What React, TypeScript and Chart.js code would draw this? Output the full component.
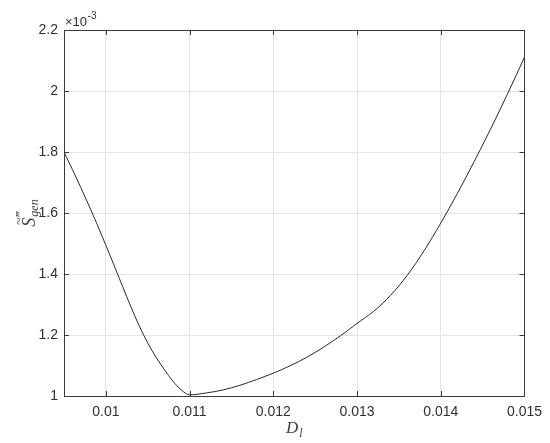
import React, { useEffect, useRef } from 'react';
import { Chart, registerables } from 'chart.js';

Chart.register(...registerables);

// D_l values
const dl = [
  0.0095, 0.0096, 0.0097, 0.0098, 0.0099, 0.01, 0.0101, 0.0102, 0.0103, 0.0104,
  0.0105, 0.0106, 0.0107, 0.0108, 0.0109, 0.011,
  0.0112, 0.0114, 0.0116, 0.0118, 0.012, 0.0122, 0.0124, 0.0126, 0.0128, 0.013,
  0.0132, 0.0134, 0.0136, 0.0138, 0.014, 0.0142, 0.0144, 0.0146, 0.0148, 0.015,
];
// S_gen''' values (x 10^-3)
const sgen = [
  1.8, 1.743, 1.684, 1.623, 1.56, 1.494, 1.427, 1.359, 1.292, 1.229,
  1.174, 1.127, 1.086, 1.049, 1.02, 1.004,
  1.01, 1.02, 1.035, 1.054, 1.075, 1.099, 1.127, 1.16, 1.197, 1.238,
  1.278, 1.33, 1.396, 1.476, 1.567, 1.665, 1.769, 1.878, 1.992, 2.111,
];

const xTicks = [0.01, 0.011, 0.012, 0.013, 0.014, 0.015];
const xTickLabels = ['0.01', '0.011', '0.012', '0.013', '0.014', '0.015'];
const yTicks = [1, 1.2, 1.4, 1.6, 1.8, 2, 2.2];
const yTickLabels = ['1', '1.2', '1.4', '1.6', '1.8', '2', '2.2'];
const exponentBase = '×10';
const exponentPower = '-3';
const xTitleMain = 'D';
const xTitleSub = 'l';
const yTitleMain = 'S';
const yTitleSup = '‴';
const yTitleSub = 'gen';

const X_MIN = 0.0095;
const X_MAX = 0.015;
const Y_MIN = 1;
const Y_MAX = 2.2;

const AXIS_COLOR = '#3a3a3a';
const TEXT_COLOR = '#303030';
const TITLE_COLOR = '#404040';
const SANS = '"Liberation Sans", Arial, sans-serif';
const SERIF = '"Liberation Serif", "Times New Roman", serif';

const framePlugin = {
  id: 'matlabFrame',
  afterDraw(chart: any) {
    const { ctx, chartArea } = chart;
    const { left, right, top, bottom } = chartArea;
    const xs = chart.scales.x;
    const ys = chart.scales.y;
    ctx.save();
    ctx.strokeStyle = AXIS_COLOR;
    ctx.lineWidth = 1;
    ctx.strokeRect(Math.round(left) + 0.5, Math.round(top) + 0.5, Math.round(right - left), Math.round(bottom - top));
    const tl = 5;
    ctx.beginPath();
    xTicks.forEach((v) => {
      const px = Math.round(xs.getPixelForValue(v)) + 0.5;
      ctx.moveTo(px, bottom);
      ctx.lineTo(px, bottom - tl);
      ctx.moveTo(px, top);
      ctx.lineTo(px, top + tl);
    });
    yTicks.forEach((v) => {
      const py = Math.round(ys.getPixelForValue(v)) + 0.5;
      ctx.moveTo(left, py);
      ctx.lineTo(left + tl, py);
      ctx.moveTo(right, py);
      ctx.lineTo(right - tl, py);
    });
    ctx.stroke();

    // exponent label
    ctx.fillStyle = TEXT_COLOR;
    ctx.textBaseline = 'alphabetic';
    ctx.textAlign = 'left';
    ctx.font = `13px ${SANS}`;
    const bx = left + 1;
    ctx.fillText(exponentBase, bx, top - 4);
    const bw = ctx.measureText(exponentBase).width;
    ctx.font = `10px ${SANS}`;
    ctx.fillText(exponentPower, bx + bw + 0.5, top - 11);

    // x title
    ctx.fillStyle = TITLE_COLOR;
    ctx.font = `italic 17px ${SERIF}`;
    const dW = ctx.measureText(xTitleMain).width;
    ctx.font = `italic 12px ${SERIF}`;
    const lW = ctx.measureText(xTitleSub).width;
    const cx = (left + right) / 2;
    const sx = cx - (dW + lW + 1) / 2;
    ctx.font = `italic 17px ${SERIF}`;
    ctx.fillText(xTitleMain, sx, 433);
    ctx.font = `italic 12px ${SERIF}`;
    ctx.fillText(xTitleSub, sx + dW + 1, 437);

    // y title (rotated)
    const cy = (top + bottom) / 2;
    ctx.translate(27, cy);
    ctx.rotate(-Math.PI / 2);
    ctx.font = `italic 18px ${SERIF}`;
    const sW = ctx.measureText(yTitleMain).width;
    ctx.font = `italic 12px ${SERIF}`;
    const gW = ctx.measureText(yTitleSub).width;
    const total = sW + 1 + gW;
    const x0 = -total / 2;
    const base = 8;
    ctx.font = `italic 18px ${SERIF}`;
    ctx.fillText(yTitleMain, x0, base);
    // tilde above S
    ctx.font = `14px ${SERIF}`;
    const tW = ctx.measureText('~').width;
    ctx.fillText('~', x0 + sW / 2 - tW / 2 + 1, base - 11);
    ctx.font = `italic 12px ${SERIF}`;
    ctx.fillText(yTitleSub, x0 + sW + 1, base + 3);
    ctx.font = `14px ${SERIF}`;
    ctx.fillText(yTitleSup, x0 + sW + 1, base - 9);
    ctx.restore();
  },
};

export default function App() {
  const canvasRef = useRef<HTMLCanvasElement | null>(null);

  useEffect(() => {
    if (!canvasRef.current) return;
    const points = dl.map((x, i) => ({ x, y: sgen[i] }));
    const chart = new Chart(canvasRef.current, {
      type: 'scatter',
      data: {
        datasets: [
          {
            data: points,
            showLine: true,
            borderColor: '#2a2a2a',
            borderWidth: 1,
            pointRadius: 0,
            pointHoverRadius: 0,
            cubicInterpolationMode: 'monotone',
            fill: false,
          },
        ],
      },
      options: {
        responsive: false,
        animation: false,
        devicePixelRatio: 1,
        events: [],
        layout: { padding: { top: 30, right: 22, left: 0, bottom: 0 } },
        plugins: {
          legend: { display: false },
          tooltip: { enabled: false },
          title: { display: false },
        },
        scales: {
          x: {
            type: 'linear',
            min: X_MIN,
            max: X_MAX,
            afterBuildTicks: (s: any) => {
              s.ticks = xTicks.map((v) => ({ value: v }));
            },
            afterFit: (s: any) => {
              s.height = 47;
            },
            ticks: {
              padding: 8,
              maxRotation: 0,
              autoSkip: false,
              color: TEXT_COLOR,
              font: { family: SANS, size: 14 },
              callback: (_v: any, i: number) => xTickLabels[i],
            },
            grid: { color: '#e4e4e4', drawTicks: false, lineWidth: 1 },
            border: { display: false },
          },
          y: {
            type: 'linear',
            min: Y_MIN,
            max: Y_MAX,
            afterBuildTicks: (s: any) => {
              s.ticks = yTicks.map((v) => ({ value: v }));
            },
            afterFit: (s: any) => {
              s.width = 64;
            },
            ticks: {
              padding: 6,
              autoSkip: false,
              color: TEXT_COLOR,
              font: { family: SANS, size: 14 },
              callback: (_v: any, i: number) => yTickLabels[i],
            },
            grid: { color: '#e4e4e4', drawTicks: false, lineWidth: 1 },
            border: { display: false },
          },
        },
      },
      plugins: [framePlugin],
    } as any);
    return () => chart.destroy();
  }, []);

  return (
    <div style={{ position: 'absolute', left: 0, top: 0, width: 550, height: 443, background: '#fff' }}>
      <canvas ref={canvasRef} width={550} height={443} />
    </div>
  );
}
